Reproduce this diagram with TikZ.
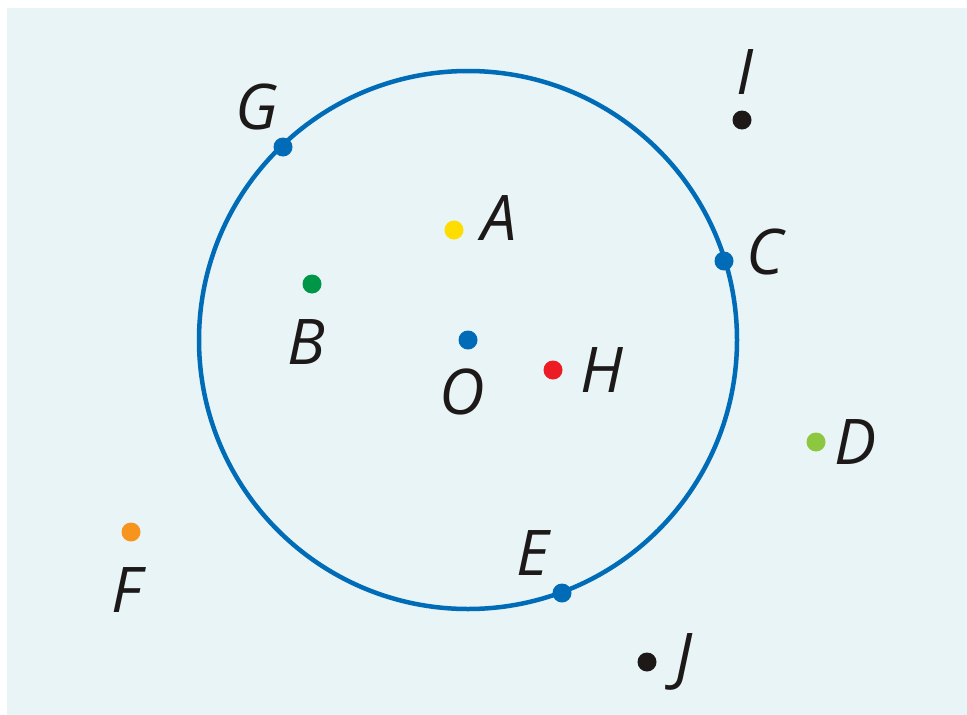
\documentclass[tikz,border=0pt]{standalone}
\usepackage{fontspec}
\setmainfont{Open Sans}
\usetikzlibrary{positioning}
\definecolor{paper}{RGB}{232,244,245}
\definecolor{cBlue}{RGB}{0,108,184}
\definecolor{cYel}{RGB}{255,221,0}
\definecolor{cGrn}{RGB}{0,150,72}
\definecolor{cRed}{RGB}{237,28,36}
\definecolor{cLime}{RGB}{141,198,63}
\definecolor{cOrg}{RGB}{247,148,29}
\definecolor{ink}{RGB}{30,25,25}

\begin{document}
\begin{tikzpicture}[
  x=1pt, y=-1pt,
  dot/.style={circle, inner sep=0pt, minimum size=19pt},
  lbl/.style={inner sep=0pt, text=ink, font=\fontsize{63}{70}\selectfont\itshape},
]
\useasboundingbox (0,0) rectangle (967,715);
\fill[paper] (7,8) rectangle (967,715);

% ---- the circle ----
\node[dot, fill=cBlue] (O) at (468,340) {};
\draw[cBlue, line width=4.5pt] (O.center) circle[radius=269];

% ---- points on the circle ----
\node[dot, fill=cBlue] (G) at (283,147) {};
\node[dot, fill=cBlue] (C) at (724,261) {};
\node[dot, fill=cBlue] (E) at (562,593) {};

% ---- points inside ----
\node[dot, fill=cYel] (A) at (454,230) {};
\node[dot, fill=cGrn] (B) at (312,284) {};
\node[dot, fill=cRed] (H) at (553,370) {};

% ---- points outside ----
\node[dot, fill=ink] (I) at (742,120) {};
\node[dot, fill=cLime] (D) at (816,442) {};
\node[dot, fill=cOrg] (F) at (131,532) {};
\node[dot, fill=ink] (J) at (647,662) {};

% ---- labels ----
\node[lbl] (labG) at (257,107) {G};
\node[lbl] (labI) at (745,72) {I};
\node[lbl] (labA) at (499,218) {A};
\node[lbl] (labC) at (765,252) {C};
\node[lbl] (labB) at (306,342) {B};
\node[lbl] (labO) at (462,392) {O};
\node[lbl] (labH) at (602,370) {H};
\node[lbl] (labD) at (856,442) {D};
\node[lbl] (labF) at (127,590) {F};
\node[lbl] (labE) at (533,553) {E};
\node[lbl] (labJ) at (684,662) {J};

\end{tikzpicture}
\end{document}
